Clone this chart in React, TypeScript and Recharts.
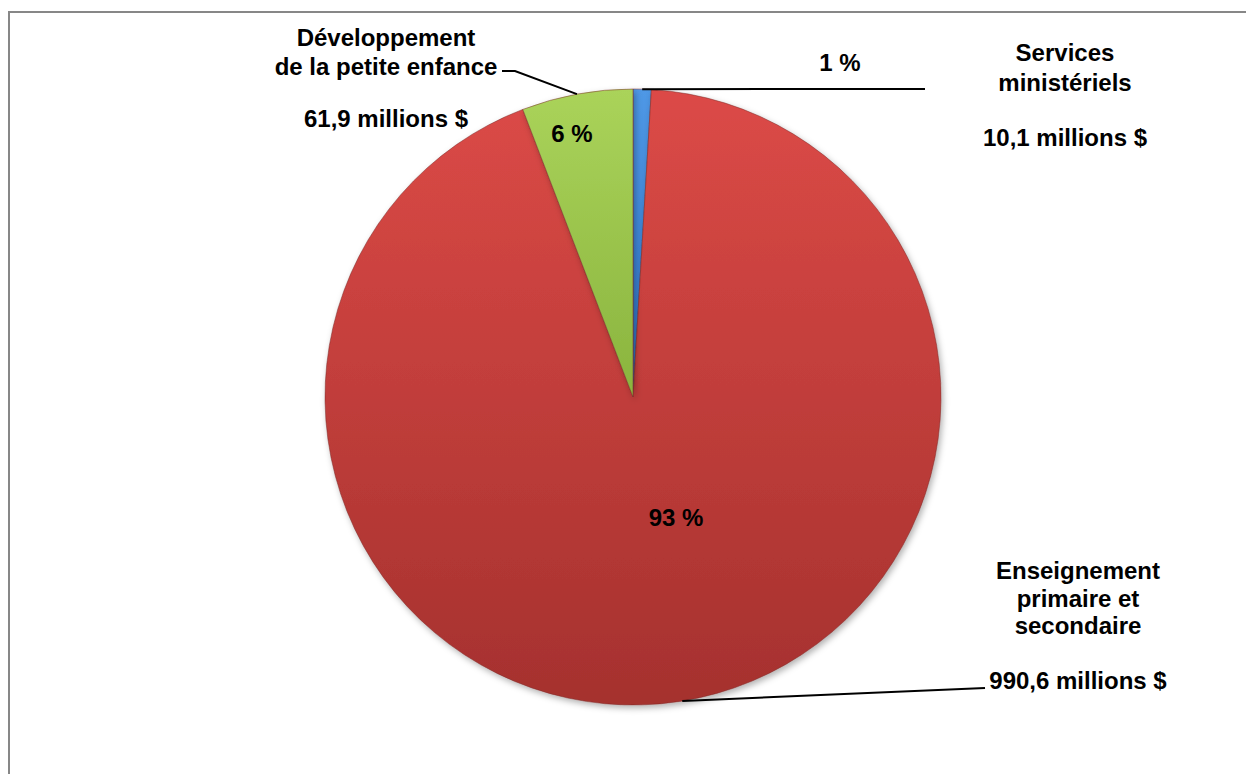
import React from "react";
import { PieChart, Pie, Cell } from "recharts";

// ── Data ────────────────────────────────────────────────────────────

const CATEGORY_LINES = [
  ["Services", "ministériels"],
  ["Enseignement", "primaire et", "secondaire"],
  ["Développement", "de la petite enfance"],
];
const VALUES = [10.1, 990.6, 61.9]; // millions $
const GRADIENTS = [
  ["#4f98e6", "#2f72c4"],
  ["#dc4a47", "#a5312e"],
  ["#aad35a", "#8ab43e"],
];

const data = VALUES.map((value, i) => ({ name: CATEGORY_LINES[i].join(" "), value }));
const total = VALUES.reduce((a, b) => a + b, 0);

// ── Label layout (offsets from pie centre) ──────────────────────────

const LAYOUT = [
  { pct: [207, -335], nameX: 432, nameY: [-345, -315], amtY: -260, anchorAngle: null as number | null, line: [[292, -308]] },
  { pct: [43, 120], nameX: 445, nameY: [173, 201, 228], amtY: 283, anchorAngle: -80.8, line: [[352, 291]] },
  { pct: [-61, -264], nameX: -247, nameY: [-360, -331], amtY: -279, anchorAngle: null, line: [[-118, -326], [-131, -326]] },
];

const RADIAN = Math.PI / 180;
const FONT = "'Liberation Sans', Arial, sans-serif";

const fmt = (v: number) => v.toFixed(1).replace(".", ",") + " millions $";

function renderLabel(props: any) {
  const { cx, cy, midAngle, outerRadius, index } = props;
  const L = LAYOUT[index];
  const ang = L.anchorAngle ?? midAngle;
  const sx = cx + outerRadius * Math.cos(-ang * RADIAN);
  const sy = cy + outerRadius * Math.sin(-ang * RADIAN);
  const pts = [[sx, sy], ...L.line.map(([dx, dy]) => [cx + dx, cy + dy])];
  const pct = Math.round((VALUES[index] / total) * 100);
  const textProps = {
    fill: "#000",
    fontFamily: FONT,
    fontWeight: 700,
    fontSize: 24,
    textAnchor: "middle" as const,
    dominantBaseline: "central" as const,
  };
  return (
    <g key={`lbl-${index}`}>
      <polyline points={pts.map((p) => p.join(",")).join(" ")} fill="none" stroke="#000" strokeWidth={2} />
      <text x={cx + L.pct[0]} y={cy + L.pct[1]} {...textProps}>
        {pct} %
      </text>
      {CATEGORY_LINES[index].map((line, j) => (
        <text key={j} x={cx + L.nameX} y={cy + L.nameY[j]} {...textProps}>
          {line}
        </text>
      ))}
      <text x={cx + L.nameX} y={cy + L.amtY} {...textProps}>
        {fmt(VALUES[index])}
      </text>
    </g>
  );
}

export default function App() {
  return (
    <div
      style={{
        position: "absolute",
        top: 11,
        left: 8,
        width: 1238,
        height: 763,
        boxSizing: "border-box",
        borderTop: "2px solid #878787",
        borderLeft: "2px solid #878787",
        background: "#fff",
      }}
    >
      <PieChart width={1236} height={761} margin={{ top: 0, right: 0, bottom: 0, left: 0 }}>
        <defs>
          {GRADIENTS.map(([a, b], i) => (
            <linearGradient key={i} id={`g${i}`} x1="0" y1="0" x2="0" y2="1">
              <stop offset="0%" stopColor={a} />
              <stop offset="100%" stopColor={b} />
            </linearGradient>
          ))}
          <filter id="shadow" x="-10%" y="-10%" width="120%" height="120%">
            <feDropShadow dx="2" dy="3" stdDeviation="3" floodColor="#000" floodOpacity="0.3" />
          </filter>
        </defs>
        <Pie
          data={data}
          dataKey="value"
          nameKey="name"
          cx={623}
          cy={384}
          outerRadius={308}
          startAngle={90}
          endAngle={-270}
          stroke="#7a2a28"
          strokeWidth={0.5}
          label={renderLabel}
          labelLine={false}
          isAnimationActive={false}
          style={{ filter: "url(#shadow)" }}
        >
          {data.map((d, i) => (
            <Cell key={d.name} fill={`url(#g${i})`} />
          ))}
        </Pie>
      </PieChart>
    </div>
  );
}
